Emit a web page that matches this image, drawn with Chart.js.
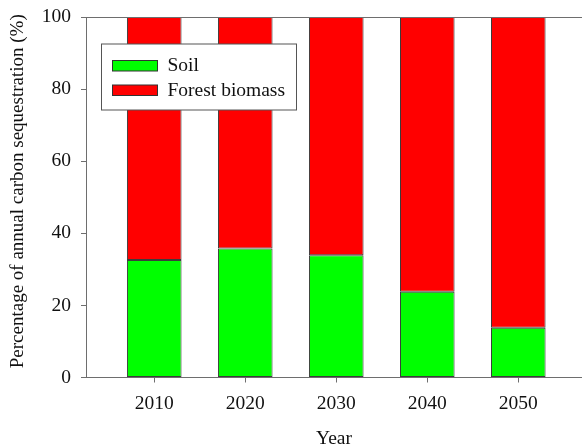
<!DOCTYPE html>
<html>
<head>
<meta charset="utf-8">
<script src="https://cdn.jsdelivr.net/npm/chart.js@4/dist/chart.umd.min.js"></script>
<style>
  html, body { margin: 0; padding: 0; background: #fff; }
  #wrap { width: 582px; height: 447px; }
</style>
</head>
<body>
<div id="wrap"><canvas id="c" width="582" height="447"></canvas></div>
<script>
// Share of annual carbon sequestration by pool
const years = [2010, 2020, 2030, 2040, 2050];
const soil = [32.6, 35.8, 33.9, 23.8, 13.8];
const forestBiomass = [67.4, 64.2, 66.1, 76.2, 86.2];
const seriesNames = ['Soil', 'Forest biomass'];
const yTicks = [0, 20, 40, 60, 80, 100];
const yTitle = 'Percentage of annual carbon sequestration (%)';

const SERIF = "'Liberation Serif', 'Times New Roman', serif";
const AXIS = '#6e6e6e';

// top frame line, vertical axis title and in-plot legend box
const framePlugin = {
  id: 'frame',
  afterDatasetsDraw(chart) {
    const { ctx, chartArea: a } = chart;
    ctx.save();
    ctx.strokeStyle = AXIS;
    ctx.lineWidth = 1;
    ctx.beginPath();
    ctx.moveTo(a.left, Math.round(a.top) + 0.5);
    ctx.lineTo(a.right, Math.round(a.top) + 0.5);
    ctx.stroke();

    // y axis title, rotated to read upward
    ctx.save();
    ctx.translate(18, (a.top + a.bottom) / 2 - 6);
    ctx.rotate(-Math.PI / 2);
    ctx.font = '19px ' + SERIF;
    ctx.fillStyle = '#111';
    ctx.textAlign = 'center';
    ctx.textBaseline = 'middle';
    ctx.fillText(yTitle, 0, 0);
    ctx.restore();

    // legend
    const bx = a.left + 15.5, by = a.top + 27;
    ctx.fillStyle = '#fff';
    ctx.fillRect(bx, by, 195, 66);
    ctx.strokeStyle = '#555';
    ctx.strokeRect(bx, by, 195, 66);
    ctx.font = '19.5px ' + SERIF;
    ctx.textBaseline = 'middle';
    ctx.textAlign = 'left';
    chart.data.datasets.forEach((ds, i) => {
      const sy = by + 16.5 + i * 24.5;
      ctx.fillStyle = ds.backgroundColor;
      ctx.fillRect(bx + 11, sy, 45, 10.5);
      ctx.strokeStyle = '#333';
      ctx.strokeRect(bx + 11, sy, 45, 10.5);
      ctx.fillStyle = '#111';
      ctx.fillText(ds.label, bx + 66, sy + 5.5);
    });
    ctx.restore();
  }
};

new Chart(document.getElementById('c'), {
  type: 'bar',
  data: {
    datasets: [
      {
        label: seriesNames[0],
        data: years.map((x, i) => ({ x, y: soil[i] })),
        backgroundColor: '#00ff00',
        borderColor: '#3c3c3c',
        borderWidth: 1,
        borderSkipped: false
      },
      {
        label: seriesNames[1],
        data: years.map((x, i) => ({ x, y: forestBiomass[i] })),
        backgroundColor: '#ff0000',
        borderColor: '#3c3c3c',
        borderWidth: 1,
        borderSkipped: false
      }
    ]
  },
  options: {
    responsive: false,
    animation: false,
    devicePixelRatio: 1,
    barPercentage: 0.6,
    categoryPercentage: 1,
    layout: { padding: { top: 17, left: 0, right: 0, bottom: 0 } },
    plugins: { legend: { display: false }, tooltip: { enabled: false } },
    scales: {
      x: {
        type: 'linear',
        stacked: true,
        offset: false,
        min: 2002.5,
        max: 2057,
        afterBuildTicks(scale) { scale.ticks = years.map(v => ({ value: v })); },
        afterFit(scale) {
          scale.height = 69.5;
          scale.paddingLeft = 0;
          scale.paddingRight = 0;
        },
        grid: { offset: false, drawOnChartArea: false, drawTicks: true, tickLength: 5, color: AXIS },
        border: { display: true, color: AXIS, width: 1 },
        ticks: {
          font: { family: SERIF, size: 19.5 },
          color: '#111',
          padding: 10,
          maxRotation: 0,
          callback: v => String(v)
        },
        title: {
          display: true,
          text: 'Year',
          font: { family: SERIF, size: 19.5, lineHeight: 1 },
          color: '#111',
          padding: { top: 0, bottom: -2 }
        }
      },
      y: {
        stacked: true,
        min: 0,
        max: 100,
        afterBuildTicks(scale) { scale.ticks = yTicks.map(v => ({ value: v })); },
        afterFit(scale) {
          scale.width = 86;
          scale.paddingTop = 0;
          scale.paddingBottom = 0;
        },
        grid: { drawOnChartArea: false, drawTicks: true, tickLength: 5, color: AXIS },
        border: { display: true, color: AXIS, width: 1 },
        ticks: {
          font: { family: SERIF, size: 19.5 },
          color: '#111',
          padding: 10
        },
        title: { display: false }
      }
    }
  },
  plugins: [framePlugin]
});
</script>
</body>
</html>
